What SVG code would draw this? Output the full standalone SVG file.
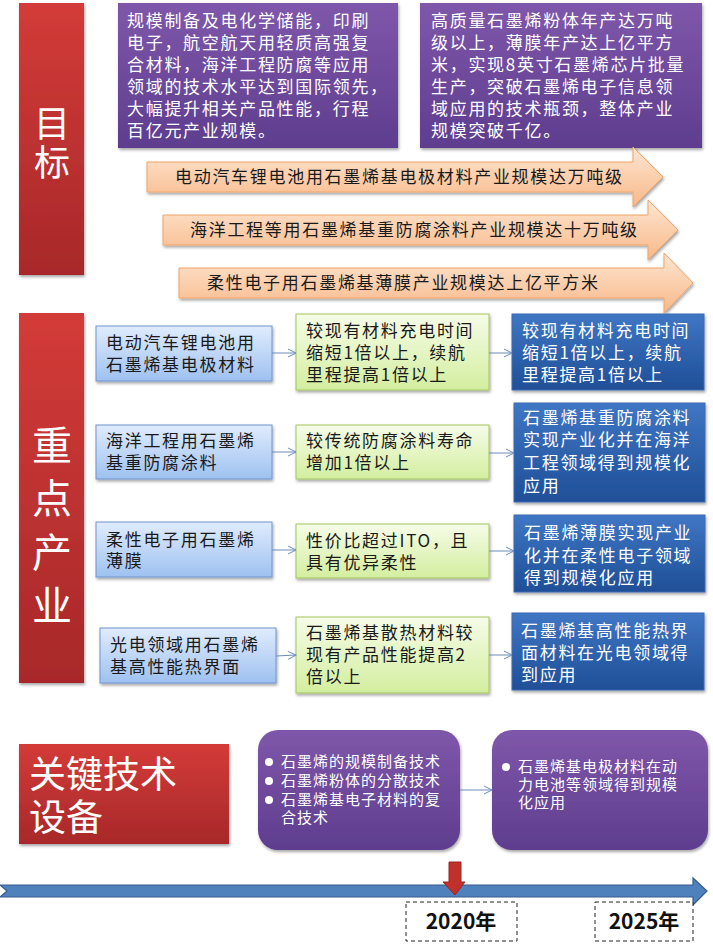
<svg xmlns="http://www.w3.org/2000/svg" width="713" height="951" viewBox="0 0 713 951">
<defs>
<linearGradient id="gRed" x1="0" y1="0" x2="0" y2="1"><stop offset="0" stop-color="#d33b38"/><stop offset="1" stop-color="#a8282a"/></linearGradient>
<linearGradient id="gPur" x1="0" y1="0" x2="0" y2="1"><stop offset="0" stop-color="#7f57aa"/><stop offset="1" stop-color="#5e3d8e"/></linearGradient>
<linearGradient id="gOra" x1="0" y1="0" x2="0" y2="1"><stop offset="0" stop-color="#fde6d2"/><stop offset="1" stop-color="#f9b888"/></linearGradient>
<linearGradient id="gLB" x1="0" y1="0" x2="0" y2="1"><stop offset="0" stop-color="#e0ecfd"/><stop offset="1" stop-color="#9ec1f0"/></linearGradient>
<linearGradient id="gGr" x1="0" y1="0" x2="0" y2="1"><stop offset="0" stop-color="#f6fce8"/><stop offset="1" stop-color="#d3ee9f"/></linearGradient>
<linearGradient id="gDB" x1="0" y1="0" x2="0" y2="1"><stop offset="0" stop-color="#3f76c4"/><stop offset="1" stop-color="#1f4f97"/></linearGradient>
<filter id="sh" x="-10%" y="-10%" width="120%" height="130%"><feDropShadow dx="1" dy="2" stdDeviation="1.5" flood-color="#000" flood-opacity="0.35"/></filter>
<marker id="ah" markerWidth="10" markerHeight="10" refX="9" refY="5" orient="auto" markerUnits="userSpaceOnUse"><path d="M1,1 L9,5 L1,9" fill="none" stroke="#6b8dbd" stroke-width="1"/></marker>
</defs>
<style>
text{font-family:"Noto Sans CJK SC","Liberation Sans",sans-serif;}
.t{font-size:17px;letter-spacing:1.7px;fill:#fff;}
.k{font-size:17px;letter-spacing:1.7px;fill:#1a1a1a;}
.s{font-size:15px;letter-spacing:1px;fill:#fff;}
.big{font-size:36px;fill:#fff;}
.red{fill:url(#gRed);filter:url(#sh);}
.pur{fill:url(#gPur);filter:url(#sh);}
.ora{fill:url(#gOra);stroke:#f0a468;stroke-width:1;filter:url(#sh);}
.lb{fill:url(#gLB);stroke:#6f93cf;stroke-width:1;filter:url(#sh);}
.gr{fill:url(#gGr);stroke:#a2c65e;stroke-width:1;filter:url(#sh);}
.db{fill:url(#gDB);stroke:#3d6bb0;stroke-width:1;filter:url(#sh);}
.c{fill:none;stroke:#6b8dbd;stroke-width:1;marker-end:url(#ah);}
.yr{font-size:21px;font-weight:bold;fill:#111;}
.dash{fill:#fff;stroke:#222;stroke-width:1;stroke-dasharray:4,3;}
</style>

<g id="goal-label">
<rect class="red" x="19" y="3" width="65" height="272"/>
<text class="big" x="52" y="137" text-anchor="middle">目</text>
<text class="big" x="52" y="176" text-anchor="middle">标</text>
</g>

<g id="goal-2020">
<rect class="pur" x="118" y="3" width="280" height="145"/>
<text class="t"><tspan x="127" y="27">规模制备及电化学储能，印刷</tspan><tspan x="127" y="49">电子，航空航天用轻质高强复</tspan><tspan x="127" y="71">合材料，海洋工程防腐等应用</tspan><tspan x="127" y="93">领域的技术水平达到国际领先，</tspan><tspan x="127" y="115">大幅提升相关产品性能，行程</tspan><tspan x="127" y="137">百亿元产业规模。</tspan></text>
</g>

<g id="goal-2025">
<rect class="pur" x="420" y="3" width="282" height="145"/>
<text class="t"><tspan x="431" y="27">高质量石墨烯粉体年产达万吨</tspan><tspan x="431" y="49">级以上，薄膜年产达上亿平方</tspan><tspan x="431" y="71">米，实现8英寸石墨烯芯片批量</tspan><tspan x="431" y="93">生产，突破石墨烯电子信息领</tspan><tspan x="431" y="115">域应用的技术瓶颈，整体产业</tspan><tspan x="431" y="137">规模突破千亿。</tspan></text>
</g>

<g id="arrow-goal-1">
<path class="ora" d="M147,162 H633 V147 L663,177 L633,207 V192 H147 Z"/>
<text class="k" x="175" y="183">电动汽车锂电池用石墨烯基电极材料产业规模达万吨级</text>
</g>
<g id="arrow-goal-2">
<path class="ora" d="M163,215 H648 V200 L678,230 L648,260 V245 H163 Z"/>
<text class="k" x="190" y="236">海洋工程等用石墨烯基重防腐涂料产业规模达十万吨级</text>
</g>
<g id="arrow-goal-3">
<path class="ora" d="M179,268 H664 V253 L693,283 L664,313 V298 H179 Z"/>
<text class="k" x="207" y="289">柔性电子用石墨烯基薄膜产业规模达上亿平方米</text>
</g>

<g id="industry-label">
<rect class="red" x="19" y="313" width="65" height="370"/>
<text class="big" style="font-size:40px" x="52" y="460" text-anchor="middle">重</text>
<text class="big" style="font-size:40px" x="52" y="513" text-anchor="middle">点</text>
<text class="big" style="font-size:40px" x="52" y="567" text-anchor="middle">产</text>
<text class="big" style="font-size:40px" x="52" y="620" text-anchor="middle">业</text>
</g>

<g id="ind-1">
<rect class="lb" x="96" y="326" width="176" height="55"/>
<text class="k"><tspan x="106" y="349">电动汽车锂电池用</tspan><tspan x="106" y="371">石墨烯基电极材料</tspan></text>
</g>
<g id="ind-2">
<rect class="lb" x="96" y="425" width="176" height="54"/>
<text class="k"><tspan x="106" y="447">海洋工程用石墨烯</tspan><tspan x="106" y="469">基重防腐涂料</tspan></text>
</g>
<g id="ind-3">
<rect class="lb" x="96" y="522" width="176" height="55"/>
<text class="k"><tspan x="106" y="546">柔性电子用石墨烯</tspan><tspan x="106" y="567">薄膜</tspan></text>
</g>
<g id="ind-4">
<rect class="lb" x="100" y="628" width="176" height="55"/>
<text class="k"><tspan x="110" y="651">光电领域用石墨烯</tspan><tspan x="110" y="673">基高性能热界面</tspan></text>
</g>

<g id="g2020-1">
<rect class="gr" x="296" y="314" width="193" height="76"/>
<text class="k"><tspan x="306" y="337">较现有材料充电时间</tspan><tspan x="306" y="359">缩短1倍以上，续航</tspan><tspan x="306" y="381">里程提高1倍以上</tspan></text>
</g>
<g id="g2020-2">
<rect class="gr" x="296" y="425" width="193" height="54"/>
<text class="k"><tspan x="306" y="447">较传统防腐涂料寿命</tspan><tspan x="306" y="469">增加1倍以上</tspan></text>
</g>
<g id="g2020-3">
<rect class="gr" x="296" y="524" width="193" height="54"/>
<text class="k"><tspan x="306" y="547">性价比超过ITO，且</tspan><tspan x="306" y="569">具有优异柔性</tspan></text>
</g>
<g id="g2020-4">
<rect class="gr" x="296" y="617" width="193" height="76"/>
<text class="k"><tspan x="306" y="639">石墨烯基散热材料较</tspan><tspan x="306" y="661">现有产品性能提高2</tspan><tspan x="306" y="683">倍以上</tspan></text>
</g>

<g id="g2025-1">
<rect class="db" x="512" y="314" width="192" height="76"/>
<text class="t"><tspan x="522" y="337">较现有材料充电时间</tspan><tspan x="522" y="359">缩短1倍以上，续航</tspan><tspan x="522" y="381">里程提高1倍以上</tspan></text>
</g>
<g id="g2025-2">
<rect class="db" x="514" y="403" width="191" height="99"/>
<text class="t"><tspan x="523" y="424">石墨烯基重防腐涂料</tspan><tspan x="523" y="446">实现产业化并在海洋</tspan><tspan x="523" y="469">工程领域得到规模化</tspan><tspan x="523" y="492">应用</tspan></text>
</g>
<g id="g2025-3">
<rect class="db" x="514" y="515" width="191" height="77"/>
<text class="t"><tspan x="524" y="539">石墨烯薄膜实现产业</tspan><tspan x="524" y="562">化并在柔性电子领域</tspan><tspan x="524" y="584">得到规模化应用</tspan></text>
</g>
<g id="g2025-4">
<rect class="db" x="512" y="613" width="192" height="77"/>
<text class="t"><tspan x="521" y="637">石墨烯基高性能热界</tspan><tspan x="521" y="659">面材料在光电领域得</tspan><tspan x="521" y="681">到应用</tspan></text>
</g>

<g id="tech-label">
<rect class="red" x="19" y="744" width="210" height="100"/>
<text class="big" style="font-size:37px"><tspan x="29" y="788">关键技术</tspan><tspan x="29" y="831">设备</tspan></text>
</g>
<g id="tech-2020">
<rect class="pur" x="258" y="730" width="202" height="120" rx="20"/>
<circle cx="269" cy="762" r="4" fill="#fff"/>
<circle cx="269" cy="781" r="4" fill="#fff"/>
<circle cx="269" cy="800" r="4" fill="#fff"/>
<text class="s"><tspan x="281" y="767">石墨烯的规模制备技术</tspan><tspan x="281" y="786">石墨烯粉体的分散技术</tspan><tspan x="281" y="805">石墨烯基电子材料的复</tspan><tspan x="281" y="823">合技术</tspan></text>
</g>
<g id="tech-2025">
<rect class="pur" x="492" y="730" width="216" height="120" rx="20"/>
<circle cx="506" cy="767" r="4" fill="#fff"/>
<text class="s"><tspan x="518" y="772">石墨烯基电极材料在动</tspan><tspan x="518" y="790">力电池等领域得到规模</tspan><tspan x="518" y="808">化应用</tspan></text>
</g>

<g id="connectors">
<line class="c" x1="272" y1="353" x2="296" y2="353"/>
<line class="c" x1="272" y1="452" x2="296" y2="452"/>
<line class="c" x1="272" y1="550" x2="296" y2="550"/>
<line class="c" x1="276" y1="656" x2="296" y2="655"/>
<line class="c" x1="489" y1="353" x2="512" y2="353"/>
<line class="c" x1="489" y1="453" x2="514" y2="453"/>
<line class="c" x1="489" y1="551" x2="514" y2="551"/>
<line class="c" x1="489" y1="655" x2="512" y2="655"/>
<line class="c" x1="460" y1="790" x2="492" y2="790"/>
</g>

<g id="timeline">
<path d="M0,885 H693 V878 L707,891 L693,905 V897 H0 L7,891 Z" fill="#4f81bd" stroke="#385d8a" stroke-width="1.2"/>
</g>
<g id="marker-2020">
<path d="M449,862 H461 V882 H465 L455,895 L443,882 H449 Z" fill="#c0312b" stroke="#9b2420" stroke-width="1"/>
</g>
<g id="year-2020">
<rect class="dash" x="406" y="902" width="111" height="39"/>
<text class="yr" x="461" y="929" text-anchor="middle">2020年</text>
</g>
<g id="year-2025">
<rect class="dash" x="595" y="902" width="98" height="39"/>
<text class="yr" x="644" y="929" text-anchor="middle">2025年</text>
</g>
</svg>
